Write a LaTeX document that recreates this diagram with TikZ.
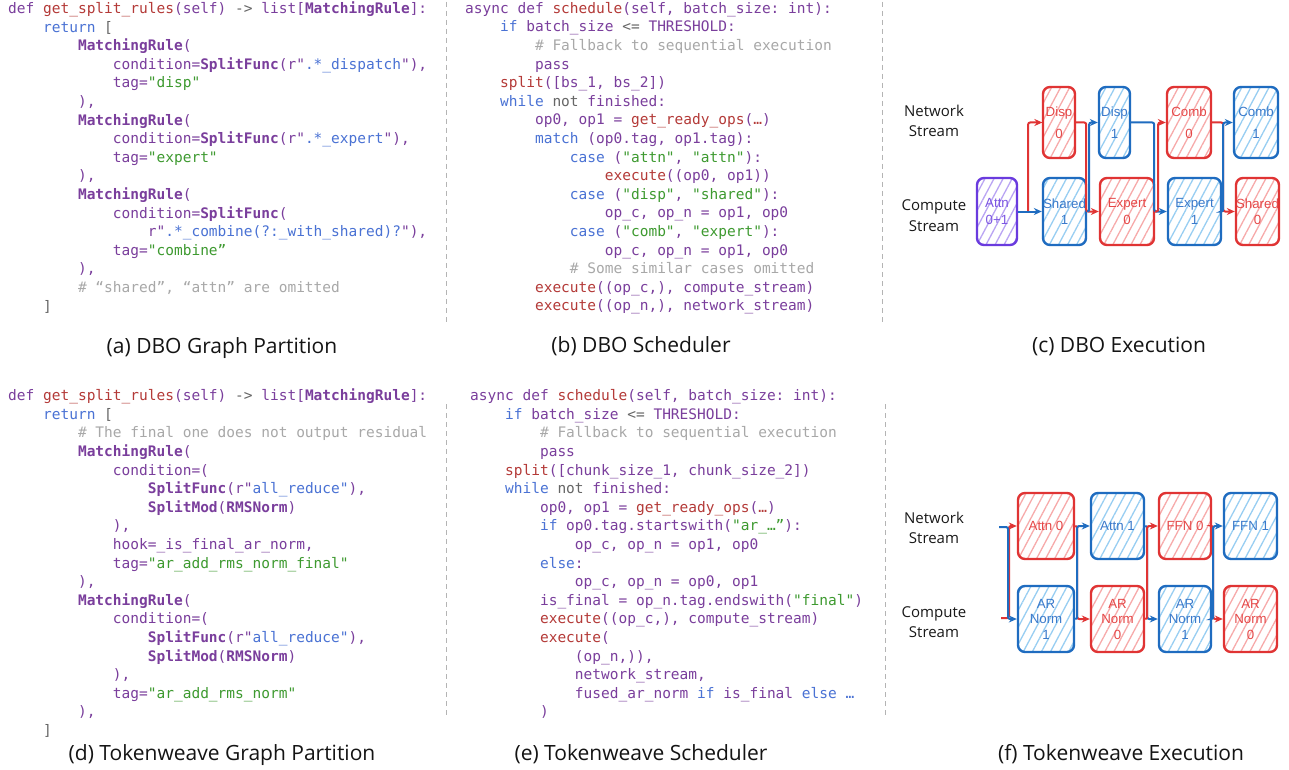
\documentclass[tikz,border=0pt]{standalone}
\usepackage{fontspec}
\setmonofont{DejaVu Sans Mono}
\newfontfamily\capfont{Open Sans}
\newfontfamily\boxfont{Liberation Sans}
\usetikzlibrary{arrows.meta,patterns.meta,calc}
\definecolor{cP}{HTML}{7A3E9C}
\definecolor{cR}{HTML}{B43A38}
\definecolor{cB}{HTML}{4A72D4}
\definecolor{cG}{HTML}{3E9A30}
\definecolor{cC}{HTML}{A8A8A8}
\definecolor{cD}{HTML}{666666}
\definecolor{sepc}{HTML}{B4B4B4}
\definecolor{dRed}{HTML}{E03434}
\definecolor{dRedT}{HTML}{E54848}
\definecolor{dRedH}{HTML}{F7AAAA}
\definecolor{dBlu}{HTML}{1F6CC0}
\definecolor{dBluT}{HTML}{3A7ACB}
\definecolor{dBluH}{HTML}{98CEF2}
\definecolor{dPur}{HTML}{6A3BDE}
\definecolor{dPurT}{HTML}{7C55E2}
\definecolor{dPurH}{HTML}{B9A4F3}
\newcommand\ind[1]{\hspace*{#1\fontcharwd\font`0}}
\newcommand\ckw[1]{\textcolor{cB}{#1}}
\newcommand\cfn[1]{\textcolor{cR}{#1}}
\newcommand\cst[1]{\textcolor{cG}{#1}}
\newcommand\ccm[1]{\textcolor{cC}{#1}}
\newcommand\cop[1]{\textcolor{cD}{#1}}
\newcommand\cbd[1]{\textbf{#1}}
\tikzset{
  codeblk/.style={anchor=base west, inner sep=0pt, text=cP,
    font=\ttfamily\fontsize{14.5}{18.6}\selectfont},
  captxt/.style={anchor=base, inner sep=0pt, text=black!92,
    font=\capfont\fontsize{21}{24}\selectfont},
  streamlbl/.style={inner sep=0pt, align=center, text=black!90,
    font=\capfont\fontsize{15}{20.5}\selectfont},
  sepline/.style={draw=sepc, line width=1pt, dash pattern=on 5pt off 4pt},
  opbox/.style={draw, line width=2.4pt, rounded corners=7pt, inner sep=0pt,
    align=center, font=\boxfont\fontsize{13.3}{16.5}\selectfont},
  rbox/.style={opbox, draw=dRed, text=dRedT,
    pattern={Lines[angle=62,distance=8pt,line width=1.3pt]}, pattern color=dRedH},
  bbox/.style={opbox, draw=dBlu, text=dBluT,
    pattern={Lines[angle=62,distance=8pt,line width=1.3pt]}, pattern color=dBluH},
  pbox/.style={opbox, draw=dPur, text=dPurT,
    pattern={Lines[angle=62,distance=8pt,line width=1.3pt]}, pattern color=dPurH},
  arrline/.style={line width=2pt, rounded corners=2pt, -{Stealth[length=8pt,width=7pt]}},
  ra/.style={arrline, draw=dRed},
  ba/.style={arrline, draw=dBlu},
  tallfont/.style={font=\boxfont\fontsize{13.3}{15.5}\selectfont},
}
\begin{document}
\begin{tikzpicture}[x=1pt,y=-1pt]
\useasboundingbox (0,0) rectangle (1289,770);
\fill[white] (0,0) rectangle (1289,770);

% separators
\draw[sepline] (446,2) -- (446,324);
\draw[sepline] (882,2) -- (882,324);
\draw[sepline] (446,404) -- (446,716);
\draw[sepline] (885,404) -- (885,716);

% (a)
\node[codeblk] (codeA) at (8,13.5) {\begin{tabular}[t]{@{}l@{}}
def \cfn{get\_split\_rules}(self) \cop{->} list[\cbd{MatchingRule}]:\\
\ind4\ckw{return} \cop{[}\\
\ind8\cbd{MatchingRule}(\\
\ind{12}condition=\cbd{SplitFunc}(r"\ckw{.*\_dispatch}"),\\
\ind{12}tag=\cst{"disp"}\\
\ind8),\\
\ind8\cbd{MatchingRule}(\\
\ind{12}condition=\cbd{SplitFunc}(r"\ckw{.*\_expert}"),\\
\ind{12}tag=\cst{"expert"}\\
\ind8),\\
\ind8\cbd{MatchingRule}(\\
\ind{12}condition=\cbd{SplitFunc}(\\
\ind{16}r"\ckw{.*\_combine(?:\_with\_shared)?}"),\\
\ind{12}tag=\cst{"combine”}\\
\ind8),\\
\ind8\ccm{\# “shared”, “attn” are omitted}\\
\ind4\cop{]}
\end{tabular}};

% (b)
\node[codeblk] (codeB) at (465,13.4) {\begin{tabular}[t]{@{}l@{}}
async def \cfn{schedule}(self, batch\_size: int):\\
\ind4\ckw{if} batch\_size \cop{<=} THRESHOLD:\\
\ind8\ccm{\# Fallback to sequential execution}\\
\ind8pass\\
\ind4\cfn{split}([bs\_1, bs\_2])\\
\ind4\ckw{while} \cop{not} finished:\\
\ind8op0, op1 = \cfn{get\_ready\_ops}(\cfn{…})\\
\ind8\ckw{match} (op0.tag, op1.tag):\\
\ind{12}\ckw{case} (\cst{"attn"}, \cst{"attn"}):\\
\ind{16}\cfn{execute}((op0, op1))\\
\ind{12}\ckw{case} (\cst{"disp"}, \cst{"shared"}):\\
\ind{16}op\_c, op\_n = op1, op0\\
\ind{12}\ckw{case} (\cst{"comb"}, \cst{"expert"}):\\
\ind{16}op\_c, op\_n = op1, op0\\
\ind{12}\ccm{\# Some similar cases omitted}\\
\ind8\cfn{execute}((op\_c,), compute\_stream)\\
\ind8\cfn{execute}((op\_n,), network\_stream)
\end{tabular}};

% (d)
\node[codeblk] (codeD) at (8,400.7) {\begin{tabular}[t]{@{}l@{}}
def \cfn{get\_split\_rules}(self) \cop{->} list[\cbd{MatchingRule}]:\\
\ind4\ckw{return} \cop{[}\\
\ind8\ccm{\# The final one does not output residual}\\
\ind8\cbd{MatchingRule}(\\
\ind{12}condition=(\\
\ind{16}\cbd{SplitFunc}(r"\ckw{all\_reduce"}),\\
\ind{16}\cbd{SplitMod}(\cbd{RMSNorm})\\
\ind{12}),\\
\ind{12}hook=\_is\_final\_ar\_norm,\\
\ind{12}tag=\cst{"ar\_add\_rms\_norm\_final"}\\
\ind8),\\
\ind8\cbd{MatchingRule}(\\
\ind{12}condition=(\\
\ind{16}\cbd{SplitFunc}(r"\ckw{all\_reduce"}),\\
\ind{16}\cbd{SplitMod}(\cbd{RMSNorm})\\
\ind{12}),\\
\ind{12}tag=\cst{"ar\_add\_rms\_norm"}\\
\ind8),\\
\ind4\cop{]}
\end{tabular}};

% (e)
\node[codeblk] (codeE) at (470,400.7) {\begin{tabular}[t]{@{}l@{}}
async def \cfn{schedule}(self, batch\_size: int):\\
\ind4\ckw{if} batch\_size \cop{<=} THRESHOLD:\\
\ind8\ccm{\# Fallback to sequential execution}\\
\ind8pass\\
\ind4\cfn{split}([chunk\_size\_1, chunk\_size\_2])\\
\ind4\ckw{while} \cop{not} finished:\\
\ind8op0, op1 = \cfn{get\_ready\_ops}(\cfn{…})\\
\ind8\ckw{if} op0.tag.startswith(\cst{"ar\_…”}):\\
\ind{12}op\_c, op\_n = op1, op0\\
\ind8\ckw{else}:\\
\ind{12}op\_c, op\_n = op0, op1\\
\ind8is\_final = op\_n.tag.endswith(\cst{"final"})\\
\ind8\cfn{execute}((op\_c,), compute\_stream)\\
\ind8\cfn{execute}(\\
\ind{12}(op\_n,)),\\
\ind{12}network\_stream,\\
\ind{12}fused\_ar\_norm \ckw{if} is\_final \ckw{else …}\\
\ind8)
\end{tabular}};

% captions
\node[captxt] (capA) at (222,353) {(a) DBO Graph Partition};
\node[captxt] (capB) at (641,352) {(b) DBO Scheduler};
\node[captxt] (capC) at (1119,352) {(c) DBO Execution};
\node[captxt] (capD) at (222,760) {(d) Tokenweave Graph Partition};
\node[captxt] (capE) at (641,760) {(e) Tokenweave Scheduler};
\node[captxt] (capF) at (1121,760) {(f) Tokenweave Execution};

% (c) DBO execution
\node[streamlbl] (netC) at (934,121) {Network\\Stream};
\node[streamlbl] (cmpC) at (934,215.5) {Compute\\Stream};

\node[rbox, minimum width=32pt, minimum height=71pt] (disp0) at (1059,122.5) {Disp\\[5pt]0};
\node[bbox, minimum width=31pt, minimum height=71pt] (disp1) at (1114.5,122.5) {Disp\\[5pt]1};
\node[rbox, minimum width=44pt, minimum height=71pt] (comb0) at (1189,122.5) {Comb\\[5pt]0};
\node[bbox, minimum width=44pt, minimum height=71pt] (comb1) at (1256,122.5) {Comb\\[5pt]1};
\node[pbox, minimum width=40pt, minimum height=67pt] (attn) at (997,211.5) {Attn\\0+1};
\node[bbox, minimum width=43pt, minimum height=67pt] (sh1) at (1064.5,211.5) {Shared\\1};
\node[rbox, minimum width=54pt, minimum height=67pt] (exp0) at (1127,211.5) {Expert\\0};
\node[bbox, minimum width=53pt, minimum height=67pt] (exp1) at (1194.5,211.5) {Expert\\1};
\node[rbox, minimum width=43pt, minimum height=67pt] (sh0) at (1257.5,211.5) {Shared\\0};

\coordinate (splitC) at ($(attn.east)!0.42!(sh1.west)$);
\draw[ra] (splitC) |- (disp0.west);
\draw[ba] (attn.east) -- (sh1.west);
\draw[ra] (disp0.east) -- ([xshift=-1pt]disp0.east -| sh1.east) |- (exp0.west);
\draw[ba] (sh1.east) -- ++(2,0) |- (disp1.west);
\draw[ba] (disp1.east) -- ([xshift=-1pt]disp1.east -| exp0.east) |- (exp1.west);
\draw[ra] (exp0.east) -- ++(3,0) |- (comb0.west);
\draw[ra] (comb0.east) -- ([xshift=1pt]comb0.east -| exp1.east) |- (sh0.west);
\draw[ba] (exp1.east) -- ++(1,0) |- (comb1.west);

% (f) Tokenweave execution
\node[streamlbl] (netF) at (934,528) {Network\\Stream};
\node[streamlbl] (cmpF) at (934,622) {Compute\\Stream};

\node[rbox, minimum width=56pt, minimum height=66pt] (attn0) at (1046,526) {Attn 0};
\node[bbox, minimum width=53pt, minimum height=66pt] (attn1) at (1117.5,526) {Attn 1};
\node[rbox, minimum width=52pt, minimum height=66pt] (ffn0) at (1185,526) {FFN 0};
\node[bbox, minimum width=53pt, minimum height=66pt] (ffn1) at (1250.5,526) {FFN 1};
\node[bbox, tallfont, minimum width=56pt, minimum height=66pt] (arn1a) at (1046,619) {AR\\Norm\\1};
\node[rbox, tallfont, minimum width=53pt, minimum height=66pt] (arn0a) at (1117.5,619) {AR\\Norm\\0};
\node[bbox, tallfont, minimum width=52pt, minimum height=66pt] (arn1b) at (1185,619) {AR\\Norm\\1};
\node[rbox, tallfont, minimum width=53pt, minimum height=66pt] (arn0b) at (1250.5,619) {AR\\Norm\\0};

\coordinate (nin) at (999,527);
\coordinate (cin) at (1001,618);
\draw[ra] (cin) -- ++(8,0) |- (attn0.west);
\draw[ba] (nin) -- ++(9,0) |- (arn1a.west);
\draw[ra] (attn0.east) -- ++(2,0) |- (arn0a.west);
\draw[ba] (arn1a.east) -- ++(2,0) |- (attn1.west);
\draw[ba] (attn1.east) -- ++(2,0) |- (arn1b.west);
\draw[ra] (arn0a.east) -- ++(2,0) |- (ffn0.west);
\draw[ra] (ffn0.east) -- ++(1,0) |- (arn0b.west);
\draw[ba] (arn1b.east) -- ++(1,0) |- (ffn1.west);
\end{tikzpicture}
\end{document}
